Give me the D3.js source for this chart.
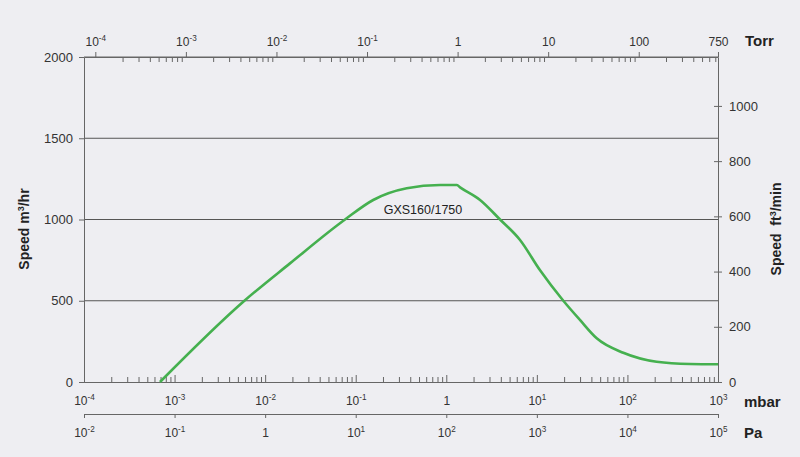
<!DOCTYPE html>
<html><head><meta charset="utf-8">
<script src="https://cdn.jsdelivr.net/npm/d3@7"></script>
<style>
html,body{margin:0;padding:0;background:#eeeef2;}
svg{display:block;}
text{font-family:"Liberation Sans",Arial,sans-serif;}
</style></head>
<body>
<script>
// ---- data ----
const pressureMbar = [6.9e-4, 5.9e-3, 0.0188, 0.0762, 0.156, 0.366, 0.853, 1.31, 1.42, 2.36, 3.92, 6.52, 10.8, 19.6, 29.9, 45.8, 90, 210, 491, 1000];
const speedM3h     = [0,      500,    730,    1000,   1120,  1192,  1212,  1212, 1198, 1120, 1000, 874,  689,  500,  382,  269,  180, 125, 111, 109];
const curveName = "GXS160/1750";

const mbarTicks = [1e-4,1e-3,1e-2,1e-1,1,10,100,1000];
const mbarLabels = ["10^-4","10^-3","10^-2","10^-1","1","10^1","10^2","10^3"];
const paTicks = [1e-2,1e-1,1,10,100,1e3,1e4,1e5];
const paLabels = ["10^-2","10^-1","1","10^1","10^2","10^3","10^4","10^5"];
const torrTicks = [1e-4,1e-3,1e-2,1e-1,1,10,100,750];
const torrLabels = ["10^-4","10^-3","10^-2","10^-1","1","10","100","750"];
const leftTicks = [0,500,1000,1500,2000];
const rightTicks = [0,200,400,600,800,1000];
const gridValues = [500,1000,1500];
const MBAR_PER_TORR = 1.33322;
const M3H_PER_CFM = 1.699;

// ---- layout ----
const W=800,H=457;
const L=84,R=718,T=57,B=382;
const FONT='"Liberation Sans",Arial,sans-serif';
const svg=d3.select("body").append("svg").attr("width",W).attr("height",H);
svg.append("rect").attr("width",W).attr("height",H).attr("fill","#eeeef2");

const x = d3.scaleLog().domain([1e-4,1e3]).range([L,R]);
const xTorr = d3.scaleLog().domain([1e-4/MBAR_PER_TORR,1e3/MBAR_PER_TORR]).range([L,R]);
const xPa = d3.scaleLog().domain([1e-2,1e5]).range([L,R]);
const yL = d3.scaleLinear().domain([0,2000]).range([B,T]);
const yR = d3.scaleLinear().domain([0,2000/M3H_PER_CFM]).range([B,T]);

const axisCol="#666", txtCol="#333";

function minors(lo,hi,max){
  const out=[];
  for(let e=lo;e<hi;e++){for(let m=2;m<=9;m++){const v=m*Math.pow(10,e); if(v<max*1.0001) out.push(v);}}
  return out;
}
function supLabel(sel,labels,fs){
  sel.each(function(d,i){
    const t=d3.select(this); t.text("");
    const parts=labels[i].split("^");
    t.append("tspan").text(parts[0]);
    if(parts[1]) t.append("tspan").attr("dy",-5).attr("font-size",fs*0.68).text(parts[1]);
  });
}
function style(g){
  g.attr("font-family",FONT);
  g.selectAll(".domain").attr("stroke",axisCol);
  g.selectAll(".tick line").attr("stroke",axisCol);
  g.selectAll("text").attr("fill",txtCol);
}

// grid
svg.append("g").selectAll("line").data(gridValues).join("line")
  .attr("x1",L).attr("x2",R).attr("y1",d=>yL(d)).attr("y2",d=>yL(d))
  .attr("stroke","#555").attr("stroke-width",1);

// bottom mbar axis: minor ticks inside
const gMin=svg.append("g").attr("transform",`translate(0,${B})`)
  .call(d3.axisTop(x).tickValues(minors(-4,3,1000)).tickSize(5).tickFormat(""));
style(gMin);
const gB=svg.append("g").attr("transform",`translate(0,${B})`)
  .call(d3.axisTop(x).tickValues(mbarTicks).tickSize(7).tickFormat(""));
style(gB);
const gBl=svg.append("g").attr("transform",`translate(0,${B})`)
  .call(d3.axisBottom(x).tickValues(mbarTicks).tickSize(0).tickPadding(14).tickFormat((d,i)=>mbarLabels[i]));
style(gBl);
gBl.select(".domain").remove();
gBl.selectAll("text").attr("font-size",12);
supLabel(gBl.selectAll(".tick text"),mbarLabels,12);

// Pa axis
const gPa=svg.append("g").attr("transform",`translate(0,414)`)
  .call(d3.axisBottom(xPa).tickValues(paTicks).tickSizeOuter(0).tickSizeInner(4).tickPadding(10).tickFormat((d,i)=>paLabels[i]));
style(gPa);
gPa.selectAll("text").attr("font-size",12);
supLabel(gPa.selectAll(".tick text"),paLabels,12);

// top Torr axis
const gTm=svg.append("g").attr("transform",`translate(0,${T})`)
  .call(d3.axisBottom(xTorr).tickValues(minors(-4,3,750).filter(v=>v<750)).tickSize(5).tickSizeOuter(0).tickFormat(""));
style(gTm);
const gT=svg.append("g").attr("transform",`translate(0,${T})`)
  .call(d3.axisTop(xTorr).tickValues(torrTicks).tickSizeInner(5).tickSizeOuter(0).tickPadding(6).tickFormat((d,i)=>torrLabels[i]));
style(gT);
gT.selectAll("text").attr("font-size",12);
supLabel(gT.selectAll(".tick text"),torrLabels,12);
gT.select(".domain").attr("d",`M${L},0H${R}`);

// left axis
const gLft=svg.append("g").attr("transform",`translate(${L},0)`)
  .call(d3.axisLeft(yL).tickValues(leftTicks).tickSizeInner(5).tickSizeOuter(0).tickPadding(6).tickFormat(d3.format("d")));
style(gLft);
gLft.selectAll("text").attr("font-size",13);

// right axis
const gR=svg.append("g").attr("transform",`translate(${R},0)`)
  .call(d3.axisRight(yR).tickValues(rightTicks).tickSizeInner(4).tickSizeOuter(0).tickPadding(7).tickFormat(d3.format("d")));
style(gR);
gR.selectAll(".tick line").attr("x1",-4);
gR.selectAll("text").attr("font-size",13);

// curve
const line=d3.line().x((d,i)=>x(pressureMbar[i])).y(d=>yL(d)).curve(d3.curveMonotoneX);
svg.append("path").datum(speedM3h).attr("d",line).attr("fill","none")
  .attr("stroke","#45b04f").attr("stroke-width",2.6).attr("stroke-linejoin","round");

svg.append("text").attr("x",423).attr("y",214).attr("text-anchor","middle")
  .attr("font-family","'Open Sans',sans-serif").attr("font-size",12.5).attr("fill","#222").text(curveName);

// unit labels
function unit(xp,yp,s){svg.append("text").attr("x",xp).attr("y",yp).attr("font-family",FONT).attr("font-size",15).attr("font-weight","bold").attr("fill","#222").text(s);}
unit(745,46,"Torr"); unit(744,407,"mbar"); unit(744,438,"Pa");

const ly=svg.append("text").attr("transform","translate(29,229) rotate(-90)").attr("text-anchor","middle")
  .attr("font-family",FONT).attr("font-size",14).attr("font-weight","bold").attr("fill","#222");
ly.append("tspan").text("Speed m");
ly.append("tspan").attr("dy",-5).attr("font-size",9).text("3");
ly.append("tspan").attr("dy",5).text("/hr");

const ry=svg.append("text").attr("transform","translate(781,229) rotate(-90)").attr("text-anchor","middle")
  .attr("font-family",FONT).attr("font-size",14).attr("font-weight","bold").attr("fill","#222").attr("xml:space","preserve");
ry.append("tspan").text("Speed  ft");
ry.append("tspan").attr("dy",-5).attr("font-size",9).text("3");
ry.append("tspan").attr("dy",5).text("/min");
</script>
</body></html>
